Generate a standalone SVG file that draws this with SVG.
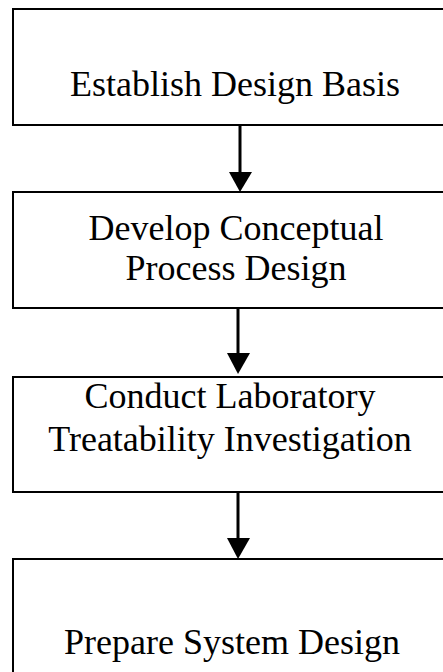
<svg xmlns="http://www.w3.org/2000/svg" width="443" height="672" viewBox="0 0 443 672">
<style>
.box{fill:#fff;stroke:#000;stroke-width:2}
.lbl{font-family:"Liberation Serif","Times New Roman",serif;font-size:36px;fill:#000;text-anchor:middle}
.edge{stroke:#000;stroke-width:3;fill:none}
.head{fill:#000}
</style>
<rect width="443" height="672" fill="#fff"/>
<g id="n1"><rect class="box" x="13" y="9" width="460" height="116"/><text class="lbl" x="235" y="96">Establish Design Basis</text></g>
<g id="n2"><rect class="box" x="13" y="192" width="460" height="116"/><text class="lbl" x="236" y="240">Develop Conceptual</text><text class="lbl" x="236" y="280">Process Design</text></g>
<g id="n3"><rect class="box" x="13" y="377" width="460" height="115"/><text class="lbl" x="230" y="408">Conduct Laboratory</text><text class="lbl" x="230" y="451">Treatability Investigation</text></g>
<g id="n4"><rect class="box" x="13" y="559" width="460" height="140"/><text class="lbl" x="232" y="654">Prepare System Design</text></g>
<g id="connectors">
<line class="edge" x1="240" y1="125" x2="240" y2="174"/><polygon class="head" points="229,172 252,172 240,192"/>
<line class="edge" x1="238" y1="308" x2="238" y2="355"/><polygon class="head" points="227,353 250,353 238,374"/>
<line class="edge" x1="238" y1="492" x2="238" y2="540"/><polygon class="head" points="227,538 250,538 238,559"/>
</g>
</svg>
